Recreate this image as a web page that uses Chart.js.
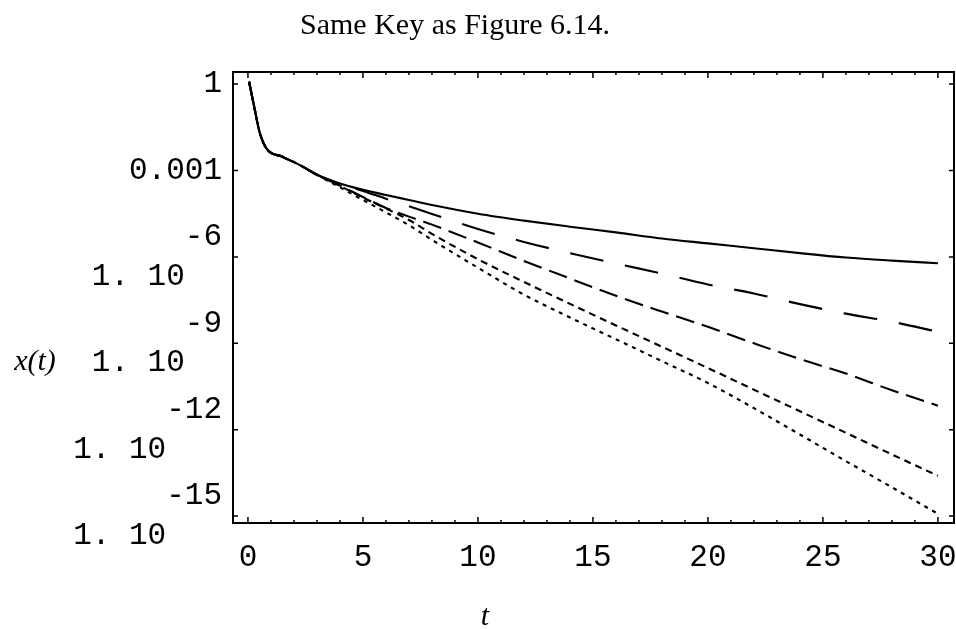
<!DOCTYPE html>
<html><head><meta charset="utf-8">
<script src="https://cdn.jsdelivr.net/npm/chart.js@4/dist/chart.umd.min.js"></script>
<style>html,body{margin:0;padding:0;background:#fff;}#wrap{width:956px;height:629px;}</style>
</head><body><div id="wrap"><canvas id="c" width="956" height="629"></canvas></div>
<script>
const titleText = "Same Key as Figure 6.14.";
const xTitle = "t";
const yTitle = "x(t)";

const tValues = [0.05, 0.3, 0.5, 0.8, 1.5, 2.3, 3, 4, 5, 6, 7, 8, 10, 12, 14, 16, 18, 20, 22, 24, 26, 28, 30];

const seriesSolid  = [1.2, 0.126, 0.0224, 5.9e-3, 3.0e-3, 1.48e-3, 7.1e-4, 3.55e-4, 2.14e-4, 1.41e-4, 9.5e-5, 6.3e-5, 3.16e-5, 1.82e-5, 1.12e-5, 7.1e-6, 4.37e-6, 2.95e-6, 2.0e-6, 1.35e-6, 9.5e-7, 7.4e-7, 6.0e-7];
const seriesLong   = [1.2, 0.126, 0.0224, 5.9e-3, 3.0e-3, 1.48e-3, 7.1e-4, 3.39e-4, 1.95e-4, 1.05e-4, 5.75e-5, 3.09e-5, 9.3e-6, 3.31e-6, 1.35e-6, 5.9e-7, 2.63e-7, 1.10e-7, 5.37e-8, 2.29e-8, 1.07e-8, 5.6e-9, 2.5e-9];
const seriesMedium = [1.2, 0.126, 0.0224, 5.9e-3, 3.0e-3, 1.48e-3, 7.1e-4, 3.0e-4, 1.2e-4, 5.0e-5, 2.5e-5, 1.32e-5, 3.16e-6, 7.2e-7, 1.78e-7, 4.47e-8, 1.26e-8, 3.72e-9, 1.0e-9, 2.82e-10, 8.9e-11, 2.34e-11, 6.8e-12];
const seriesShort  = [1.2, 0.126, 0.0224, 5.9e-3, 3.0e-3, 1.48e-3, 7.1e-4, 2.9e-4, 1.15e-4, 4.8e-5, 1.91e-5, 6.3e-6, 8.3e-7, 1.35e-7, 2.34e-8, 4.17e-9, 7.6e-10, 1.38e-10, 2.45e-11, 4.37e-12, 7.8e-13, 1.38e-13, 2.5e-14];
const seriesDotted = [1.2, 0.126, 0.0224, 5.9e-3, 3.0e-3, 1.48e-3, 7.1e-4, 2.6e-4, 9.5e-5, 3.5e-5, 1.26e-5, 3.9e-6, 4.2e-7, 4.9e-8, 7.9e-9, 1.38e-9, 2.4e-10, 4.17e-11, 5.6e-12, 6.8e-13, 8.1e-14, 1.0e-14, 1.2e-15];

const xTickValues = [0, 5, 10, 15, 20, 25, 30];
const xTickLabels = ["0", "5", "10", "15", "20", "25", "30"];
const yTickValues = [1, 1e-3, 1e-6, 1e-9, 1e-12, 1e-15];
const yTickLabels = ["1", "0.001", ["-6", "1. 10  "], ["-9", "1. 10  "], ["-12", "1. 10   "], ["-15", "1. 10   "]];

const toPts = arr => tValues.map((t, i) => ({x: t, y: arr[i]}));
const mk = (arr, dash) => ({data: toPts(arr), borderColor: '#000', borderWidth: 2.1, borderDash: dash, pointRadius: 0, showLine: true, fill: false, cubicInterpolationMode: 'monotone'});

const framePlugin = {
  id: 'frame',
  afterDraw(chart) {
    const {ctx, chartArea: a, scales: {x, y}} = chart;
    ctx.save();
    ctx.strokeStyle = '#000';
    ctx.lineWidth = 2;
    ctx.strokeRect(a.left, a.top, a.right - a.left, a.bottom - a.top);
    ctx.lineWidth = 1.5;
    ctx.beginPath();
    for (let v = 0; v <= 30; v++) {
      const px = x.getPixelForValue(v);
      const L = v % 5 === 0 ? 6 : 3;
      ctx.moveTo(px, a.bottom); ctx.lineTo(px, a.bottom - L);
      ctx.moveTo(px, a.top); ctx.lineTo(px, a.top + L);
    }
    yTickValues.forEach(v => {
      const py = y.getPixelForValue(v);
      ctx.moveTo(a.left, py); ctx.lineTo(a.left + 5, py);
      ctx.moveTo(a.right, py); ctx.lineTo(a.right - 5, py);
    });
    ctx.stroke();
    ctx.fillStyle = '#000';
    ctx.textAlign = 'center';
    ctx.textBaseline = 'middle';
    ctx.font = '30px "Liberation Serif"';
    ctx.fillText(titleText, 455, 26);
    ctx.font = 'italic 30px "Liberation Serif"';
    ctx.fillText(yTitle, 35, 362);
    ctx.fillText(xTitle, 485, 617);
    ctx.restore();
  }
};

new Chart(document.getElementById('c'), {
  type: 'scatter',
  data: {datasets: [
    mk(seriesSolid, []),
    mk(seriesLong, [34, 22]),
    mk(seriesMedium, [19, 8]),
    mk(seriesShort, [7, 5]),
    mk(seriesDotted, [4, 5])
  ]},
  options: {
    responsive: false,
    animation: false,
    devicePixelRatio: 1,
    layout: {padding: {top: 72, right: 2, left: 0, bottom: 0}},
    plugins: {legend: {display: false}, tooltip: {enabled: false}, title: {display: false}},
    scales: {
      x: {
        type: 'linear', min: -0.65, max: 30.7,
        grid: {display: false, drawTicks: false},
        border: {display: false},
        afterBuildTicks: s => { s.ticks = xTickValues.map(v => ({value: v})); },
        afterFit: s => { s.height = 106; s.paddingLeft = 0; s.paddingRight = 0; },
        ticks: {
          color: '#000', padding: 16, maxRotation: 0, autoSkip: false,
          font: {family: '"Liberation Mono", monospace', size: 31},
          callback: v => xTickLabels[xTickValues.indexOf(v)]
        }
      },
      y: {
        type: 'logarithmic', min: 5.75e-16, max: 2.63,
        grid: {display: false, drawTicks: false},
        border: {display: false},
        afterBuildTicks: s => { s.ticks = yTickValues.map(v => ({value: v})); },
        afterFit: s => { s.width = 233; s.paddingTop = 0; s.paddingBottom = 0; },
        ticks: {
          color: '#000', padding: 11, autoSkip: false,
          font: {family: '"Liberation Mono", monospace', size: 31, lineHeight: 1.28},
          callback: v => yTickLabels[yTickValues.indexOf(v)]
        }
      }
    }
  },
  plugins: [framePlugin]
});
</script>
</body></html>
